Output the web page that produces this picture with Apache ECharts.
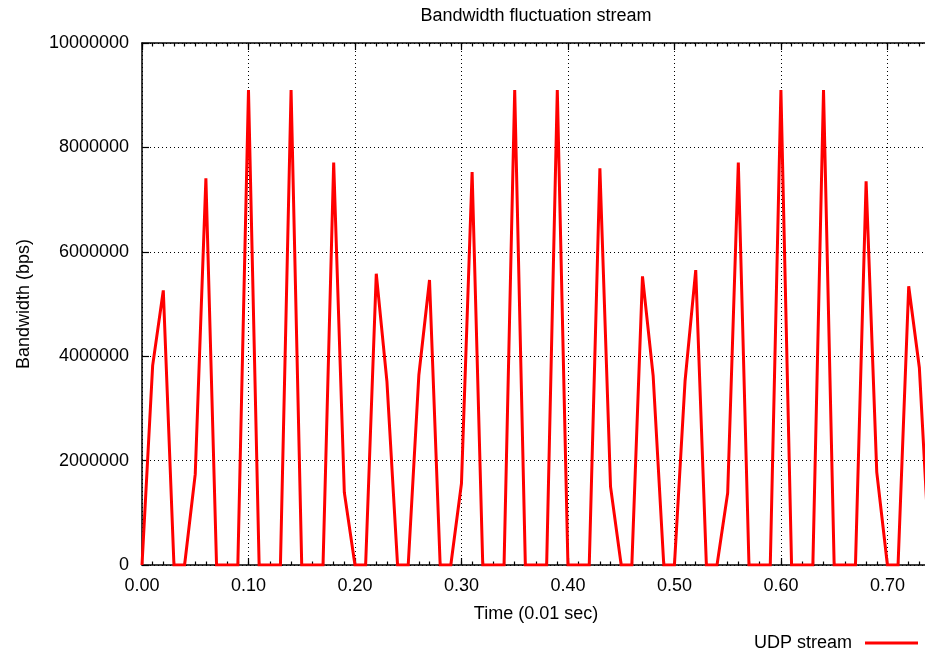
<!DOCTYPE html>
<html>
<head>
<meta charset="utf-8">
<script src="https://cdn.jsdelivr.net/npm/echarts@6/dist/echarts.min.js"></script>
<style>
html,body{margin:0;padding:0;background:#fff;}
#chart{width:925px;height:656px;}
</style>
</head>
<body>
<div id="chart"></div>
<script>
var chartTitle = 'Bandwidth fluctuation stream';
var xAxisName = 'Time (0.01 sec)';
var yAxisName = 'Bandwidth (bps)';
var seriesName = 'UDP stream';

var times = [
  0.00, 0.01, 0.02, 0.03, 0.04, 0.05, 0.06, 0.07, 0.08, 0.09,
  0.10, 0.11, 0.12, 0.13, 0.14, 0.15, 0.16, 0.17, 0.18, 0.19,
  0.20, 0.21, 0.22, 0.23, 0.24, 0.25, 0.26, 0.27, 0.28, 0.29,
  0.30, 0.31, 0.32, 0.33, 0.34, 0.35, 0.36, 0.37, 0.38, 0.39,
  0.40, 0.41, 0.42, 0.43, 0.44, 0.45, 0.46, 0.47, 0.48, 0.49,
  0.50, 0.51, 0.52, 0.53, 0.54, 0.55, 0.56, 0.57, 0.58, 0.59,
  0.60, 0.61, 0.62, 0.63, 0.64, 0.65, 0.66, 0.67, 0.68, 0.69,
  0.70, 0.71, 0.72, 0.73, 0.74
];

var bandwidth = [
  0, 3820000, 5260000, 0, 0, 1740000, 7410000, 0, 0, 0,
  9100000, 0, 0, 0, 9100000, 0, 0, 0, 7710000, 1390000,
  0, 0, 5580000, 3520000, 0, 0, 3640000, 5460000, 0, 0,
  1560000, 7530000, 0, 0, 0, 9100000, 0, 0, 0, 9100000,
  0, 0, 0, 7600000, 1500000, 0, 0, 5530000, 3630000, 0,
  0, 3530000, 5650000, 0, 0, 1380000, 7710000, 0, 0, 0,
  9100000, 0, 0, 0, 9100000, 0, 0, 0, 7350000, 1780000,
  0, 0, 5340000, 3780000, 0
];

var xMin = 0, xMax = 0.74, xMajor = 0.1, xMinor = 0.01;
var yMin = 0, yMax = 10000000, yStep = 2000000;

var FONT = '"Liberation Sans", Arial, Helvetica, sans-serif';

var points = times.map(function (t, i) { return [t, bandwidth[i]]; });

var chart = echarts.init(document.getElementById('chart'), null, {renderer: 'canvas'});

var axisLineStyle = {color: '#000', width: 1.5};
var gridLineStyle = {color: '#000', width: 1, type: [1, 3]};

function majorX(pos, withLabel, withName) {
  return {
    type: 'value', position: pos, min: xMin, max: xMax, interval: xMajor,
    gridIndex: 0,
    name: withName ? xAxisName : '',
    nameLocation: 'middle', nameGap: 40,
    nameTextStyle: {fontFamily: FONT, fontSize: 18, color: '#000'},
    axisLine: {show: true, onZero: false, lineStyle: axisLineStyle},
    axisTick: {show: true, inside: true, length: 7, lineStyle: {color: '#000', width: 1.2}},
    axisLabel: {
      show: withLabel, margin: 12, showMaxLabel: false,
      fontFamily: FONT, fontSize: 18, color: '#000',
      formatter: function (v) { return v.toFixed(2); }
    },
    splitLine: {show: withLabel, lineStyle: gridLineStyle},
    z: 5
  };
}
function minorX(pos) {
  return {
    type: 'value', position: pos, min: xMin, max: xMax, interval: xMinor,
    gridIndex: 0,
    axisLine: {show: false, onZero: false},
    axisTick: {show: true, inside: true, length: 3.5, lineStyle: {color: '#000', width: 1.2}},
    axisLabel: {show: false},
    splitLine: {show: false}
  };
}

var option = {
  animation: false,
  backgroundColor: '#fff',
  title: {
    text: chartTitle,
    left: 536, top: 7, padding: 0, textAlign: 'center',
    textStyle: {fontFamily: FONT, fontSize: 18, fontWeight: 'normal', color: '#000'}
  },
  legend: {
    data: [seriesName],
    right: 7, top: 634, padding: 0,
    align: 'right',
    icon: 'rect', itemWidth: 53, itemHeight: 3,
    textStyle: {fontFamily: FONT, fontSize: 18, color: '#000', padding: [0, 8, 0, 0]}
  },
  grid: {
    left: 142, width: 788, top: 43, bottom: 91,
    containLabel: false, outerBoundsMode: 'none'
  },
  xAxis: [
    majorX('bottom', true, true),
    minorX('bottom'),
    majorX('top', false, false),
    minorX('top')
  ],
  yAxis: [{
    type: 'value', min: yMin, max: yMax, interval: yStep,
    name: yAxisName, nameLocation: 'middle', nameGap: 109, nameRotate: 90,
    nameTextStyle: {fontFamily: FONT, fontSize: 18, color: '#000'},
    axisLine: {show: true, onZero: false, lineStyle: axisLineStyle},
    axisTick: {show: true, inside: true, length: 7, lineStyle: {color: '#000', width: 1.2}},
    axisLabel: {
      margin: 13, fontFamily: FONT, fontSize: 18, color: '#000',
      formatter: function (v) { return String(v); }
    },
    splitLine: {show: true, lineStyle: gridLineStyle}
  }],
  series: [{
    name: seriesName,
    type: 'line',
    xAxisIndex: 0, yAxisIndex: 0,
    data: points,
    showSymbol: false, symbol: 'none',
    clip: true,
    lineStyle: {color: '#ff0000', width: 3, join: 'miter'},
    itemStyle: {color: '#ff0000'},
    z: 10
  }]
};
chart.setOption(option);
</script>
</body>
</html>
